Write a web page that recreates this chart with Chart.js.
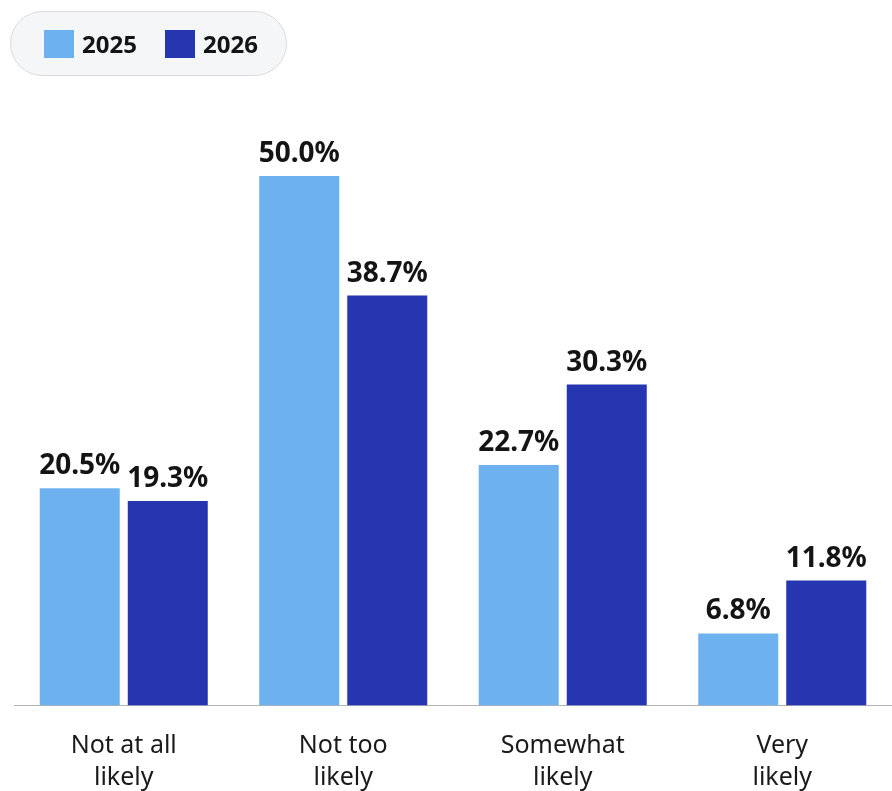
<!DOCTYPE html>
<html>
<head>
<meta charset="utf-8">
<script src="https://cdn.jsdelivr.net/npm/chart.js@4.4.1/dist/chart.umd.min.js"></script>
<style>
  html, body { margin: 0; padding: 0; background: #ffffff; overflow: hidden; }
  #wrap { position: relative; width: 892px; height: 818px; }
  #legend {
    position: absolute; left: 10px; top: 11px; width: 275px; height: 63px;
    border: 1px solid #d9dadc; border-radius: 33px; background: #f5f6f8;
    font-family: "Noto Sans", sans-serif; font-weight: 700; font-size: 24px; color: #141414;
  }
  .item { position: absolute; top: 0; height: 63px; display: flex; align-items: center; }
  .sw { width: 30px; height: 28px; margin-right: 8px; }
</style>
</head>
<body>
<div id="wrap">
  <canvas id="c" width="892" height="818"></canvas>
  <div id="legend"></div>
</div>
<script>
const categories = [["Not at all", "likely"], ["Not too", "likely"], ["Somewhat", "likely"], ["Very", "likely"]];
const seriesNames = ["2025", "2026"];
const values2025 = [20.5, 50.0, 22.7, 6.8];
const values2026 = [19.3, 38.7, 30.3, 11.8];
const colors = ["#6db2ef", "#2536b0"];

// HTML legend
const legend = document.getElementById('legend');
const legendLefts = [33, 154];
seriesNames.forEach((n, i) => {
  const d = document.createElement('div');
  d.className = 'item';
  d.style.left = legendLefts[i] + 'px';
  d.innerHTML = '<span class="sw" style="background:' + colors[i] + '"></span><span>' + n + '</span>';
  legend.appendChild(d);
});

const valueLabels = {
  id: 'valueLabels',
  afterDatasetsDraw(chart) {
    const ctx = chart.ctx;
    ctx.save();
    ctx.font = '700 28px "Noto Sans", sans-serif';
    ctx.fillStyle = '#141414';
    ctx.textAlign = 'center';
    ctx.textBaseline = 'alphabetic';
    chart.data.datasets.forEach((ds, di) => {
      const meta = chart.getDatasetMeta(di);
      meta.data.forEach((el, i) => {
        ctx.fillText(ds.data[i].toFixed(1) + '%', el.x, el.y - 14);
      });
    });
    ctx.restore();
  }
};

new Chart(document.getElementById('c'), {
  type: 'bar',
  data: {
    labels: categories,
    datasets: [
      { label: seriesNames[0], data: values2025, backgroundColor: colors[0] },
      { label: seriesNames[1], data: values2026, backgroundColor: colors[1] }
    ]
  },
  options: {
    responsive: false,
    animation: false,
    devicePixelRatio: 1,
    layout: { padding: { left: 14, right: 0, top: 70, bottom: 0 } },
    datasets: { bar: { barPercentage: 0.909, categoryPercentage: 0.802 } },
    plugins: { legend: { display: false }, tooltip: { enabled: false } },
    scales: {
      x: {
        grid: { display: false, drawTicks: false },
        border: { display: true, color: '#b3b3b3', width: 1 },
        ticks: {
          color: '#1a1a1a', padding: 25, maxRotation: 0, autoSkip: false,
          font: { family: '"Noto Sans", sans-serif', size: 25, lineHeight: 1.25 }
        }
      },
      y: { display: false, min: 0, max: 60 }
    }
  },
  plugins: [valueLabels]
});
</script>
</body>
</html>
